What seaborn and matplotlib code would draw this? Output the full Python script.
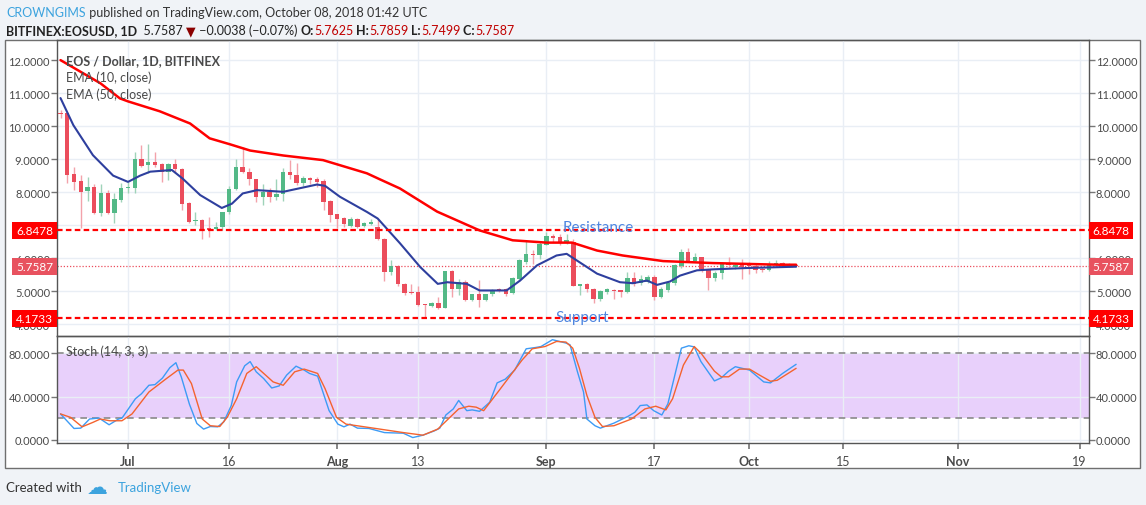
import numpy as np
import pandas as pd
import matplotlib
matplotlib.use("Agg")
import matplotlib.pyplot as plt
import matplotlib.transforms as mtransforms
from matplotlib.patches import Rectangle
import seaborn as sns

# daily candles, day 0 = 21 Jun 2018, last = 8 Oct 2018
opens = [10.40, 10.39, 8.54, 8.34, 8.03, 8.16, 7.37, 7.98, 7.37, 7.76,
         8.12, 8.11, 8.99, 8.82, 8.90, 8.84, 8.60, 8.84, 8.69, 7.67,
         7.12, 7.17, 6.91, 6.88, 6.94, 7.40, 8.09, 8.77, 8.62, 8.39,
         7.86, 8.01, 7.85, 7.93, 8.60, 8.51, 8.29, 8.43, 8.39, 8.34,
         7.73, 7.34, 7.22, 6.98, 7.20, 6.98, 7.03, 6.94, 6.59, 5.58,
         5.76, 5.22, 4.97, 4.97, 4.61, 4.56, 4.63, 4.49, 5.60, 5.07,
         5.29, 4.72, 4.90, 4.72, 4.90, 5.07, 5.07, 4.95, 5.37, 5.88,
         6.13, 6.08, 6.41, 6.67, 6.64, 6.49, 6.49, 5.17, 5.22, 5.07,
         4.75, 4.97, 5.04, 5.02, 4.97, 5.39, 5.25, 5.29, 5.42, 4.82,
         5.02, 5.25, 5.76, 6.20, 5.90, 6.03, 5.66, 5.39, 5.56, 5.86,
         5.73, 5.80, 5.78, 5.76, 5.68, 5.63, 5.80, 5.86, 5.76, 5.7625]
highs = [10.50, 10.42, 8.77, 8.51, 8.46, 8.26, 8.26, 8.06, 7.96, 8.28,
         8.31, 9.22, 9.43, 9.46, 9.22, 8.87, 8.87, 8.99, 8.72, 7.70,
         7.40, 7.20, 7.25, 7.10, 7.40, 8.19, 8.99, 9.38, 8.72, 8.41,
         8.26, 8.11, 8.41, 8.72, 8.97, 8.87, 8.49, 8.46, 8.46, 8.39,
         7.75, 7.35, 7.25, 7.25, 7.22, 7.08, 7.20, 7.20, 6.60, 5.93,
         5.80, 5.25, 5.22, 5.17, 4.62, 4.66, 4.82, 5.60, 5.63, 5.37,
         5.35, 4.92, 5.35, 4.92, 5.07, 5.09, 5.09, 5.42, 5.98, 6.54,
         6.24, 6.49, 6.79, 6.74, 6.74, 6.74, 6.57, 5.22, 5.25, 5.09,
         5.02, 5.09, 5.07, 5.02, 5.58, 5.58, 5.48, 5.48, 5.48, 5.12,
         5.32, 5.83, 6.29, 6.31, 6.16, 6.03, 5.68, 5.60, 5.88, 6.03,
         5.85, 5.96, 5.88, 5.81, 5.73, 5.90, 5.93, 5.88, 5.86, 5.7859]
lows = [10.25, 8.28, 8.06, 6.90, 7.74, 7.35, 7.27, 7.33, 7.05, 7.70,
        7.96, 7.96, 8.75, 8.57, 8.75, 8.31, 8.38, 8.57, 7.45, 7.07,
        7.00, 6.59, 6.64, 6.84, 6.84, 7.35, 8.06, 8.57, 8.21, 7.70,
        7.60, 7.70, 7.75, 7.72, 8.41, 8.21, 8.20, 8.26, 8.16, 7.45,
        7.10, 6.91, 6.94, 6.94, 6.91, 6.94, 7.00, 6.54, 5.32, 5.48,
        5.17, 4.89, 4.92, 4.56, 4.21, 4.51, 4.46, 4.49, 4.82, 4.87,
        4.69, 4.69, 4.51, 4.69, 4.85, 4.97, 4.85, 4.92, 5.32, 5.83,
        5.83, 5.98, 6.39, 6.49, 6.39, 6.44, 5.15, 4.89, 4.97, 4.65,
        4.69, 4.92, 4.75, 4.82, 4.95, 5.17, 5.19, 5.25, 4.72, 4.79,
        4.97, 5.19, 5.70, 5.88, 5.88, 5.58, 5.02, 5.32, 5.37, 5.70,
        5.68, 5.37, 5.53, 5.56, 5.58, 5.60, 5.76, 5.73, 5.73, 5.7499]
closes = [10.37, 8.51, 8.31, 8.01, 8.16, 7.37, 7.98, 7.37, 7.78, 8.14,
          8.14, 8.99, 8.79, 8.92, 8.82, 8.60, 8.84, 8.69, 7.65, 7.10,
          7.17, 6.86, 6.86, 6.94, 7.40, 8.09, 8.77, 8.60, 8.39, 7.86,
          8.01, 7.86, 7.93, 8.60, 8.51, 8.29, 8.43, 8.36, 8.31, 7.70,
          7.32, 7.20, 7.02, 7.20, 6.94, 7.05, 7.08, 6.57, 5.58, 5.76,
          5.22, 4.95, 4.94, 4.59, 4.58, 4.63, 4.48, 5.60, 5.07, 5.29,
          4.72, 4.90, 4.72, 4.90, 5.04, 5.04, 4.92, 5.40, 5.93, 6.11,
          6.08, 6.44, 6.67, 6.61, 6.49, 6.54, 5.17, 5.22, 5.05, 4.75,
          4.99, 5.05, 5.00, 4.97, 5.39, 5.22, 5.37, 5.42, 4.82, 5.05,
          5.25, 5.78, 6.20, 5.90, 6.03, 5.66, 5.39, 5.56, 5.83, 5.78,
          5.78, 5.73, 5.76, 5.63, 5.63, 5.83, 5.86, 5.78, 5.81, 5.7587]

# EMA lines (day offset, value)
ema10_day = [0, 1.9, 4.8, 7.8, 10, 11.8, 13.3, 16.5, 18.1, 20.7, 23.9, 25.4,
             27, 29.1, 33, 38, 39.2, 41.4, 45.4, 47, 50.3, 53.3, 55.9, 57.3,
             60.2, 62.1, 66.1, 68.1, 70.6, 73.5, 75, 76.5, 79.5, 82.9, 84.8,
             86.9, 88.4, 90.3, 91.8, 94.3, 96.7, 101.7, 109]
ema10 = [10.85, 10.03, 9.12, 8.50, 8.31, 8.50, 8.62, 8.67, 8.41, 7.91, 7.52,
         7.65, 7.96, 8.06, 8.01, 8.23, 8.19, 7.86, 7.40, 7.20, 6.45, 5.73,
         5.22, 5.27, 5.22, 5.02, 5.02, 5.32, 5.78, 6.08, 6.13, 5.93, 5.53,
         5.27, 5.24, 5.32, 5.19, 5.29, 5.47, 5.63, 5.66, 5.70, 5.74]
ema50_day = [0, 5.9, 8.8, 10, 14.7, 19.2, 22.1, 25.1, 28.1, 33, 38.9, 45.4,
             47.3, 50.3, 55.8, 62.1, 67, 72, 75.8, 79.5, 83.3, 89.3, 96.7,
             106.6, 109]
ema50 = [12.0, 11.3, 10.84, 10.75, 10.45, 10.08, 9.63, 9.45, 9.26, 9.11,
         8.97, 8.57, 8.39, 8.11, 7.41, 6.84, 6.54, 6.47, 6.47, 6.23, 6.08,
         5.91, 5.85, 5.80, 5.80]

# Stoch (14, 3, 3)
stoch_k_day = [0, 2, 3, 4.3, 5.7, 7.2, 8.6, 9.1, 11.1, 12, 13.1, 14, 15.1,
               16.2, 17.1, 17.9, 19.1, 20.2, 21.2, 22.2, 23.3, 24.2, 25.3,
               26.1, 27.3, 28.1, 29, 30.1, 31.3, 32.4, 33.5, 34.9, 36.1, 36.9,
               38.1, 39.8, 41.1, 42, 42.9, 44, 45.7, 48, 50.8, 52.2, 53.7,
               55.4, 56.2, 57.1, 58.2, 59, 60.2, 61, 62.1, 63.6, 64.7, 65.9,
               67.3, 69, 70.4, 71.2, 72.9, 74.9, 75.5, 76.6, 77.5, 78, 79.2,
               80, 82, 84.1, 85.1, 85.9, 86.9, 87.9, 89.1, 90, 92, 93.1, 93.9,
               94.9, 96.9, 97.9, 99, 100, 102.1, 104.2, 105.2, 107, 109]
stoch_k = [24, 10.6, 10.9, 19.3, 20.2, 14, 19.3, 20, 38, 42.6, 50.4, 51, 57,
           66.6, 71.2, 58, 33, 15.2, 10, 12.4, 12.1, 16.8, 31.7, 53.5, 68.4,
           72.2, 62.8, 56.6, 47.9, 49.8, 59.7, 68, 64.4, 61.3, 58.8, 27, 14.6,
           12.1, 14.6, 10.9, 10.6, 6.8, 6.2, 2.2, 4.4, 8.4, 10.9, 23, 28.6,
           36.4, 27, 27.7, 26.4, 34.8, 52.6, 56, 64.4, 84, 85.2, 86.1, 92.4,
           89.3, 87.7, 62.8, 44.2, 19.3, 13.1, 10.9, 15.5, 21.8, 25.5, 31.7,
           32.3, 27, 23, 33.3, 84.6, 86.8, 85.8, 72.2, 54.4, 57.2, 63.4, 67.5,
           64.4, 53.5, 52.6, 61.3, 69.7]
stoch_d_day = [0, 1.5, 3.2, 4.8, 5.9, 7.3, 9.1, 10.6, 13.1, 15.7, 17.4, 18.2,
               19.4, 21, 22.2, 23.6, 24.7, 26.1, 27.6, 29, 30.4, 31.5, 33,
               34.7, 36.1, 38.1, 39.2, 40.9, 42.3, 45.7, 50.8, 53.7, 55.9, 59,
               60.5, 61.6, 62.7, 65, 68.4, 69.9, 71.8, 73.5, 74.9, 75.9, 76.9,
               78, 79.2, 80.3, 82, 84.6, 86.6, 88.2, 89.7, 90.7, 92.3, 93.9,
               94.9, 96.9, 97.9, 99, 100.6, 102.1, 103.6, 105.2, 106.2, 109]
stoch_d = [24, 20.8, 12.1, 16.2, 19.3, 17.7, 17.7, 24, 44.2, 56.6, 64.4,
           64.4, 52, 19.3, 13.1, 12.4, 20.8, 37.9, 61.3, 67.5, 59.7, 53.5,
           50.4, 62.8, 65.3, 61.3, 47.3, 20.8, 14.6, 11.5, 6.8, 4.4, 10, 28.6,
           31.1, 30.2, 27, 45.7, 73.7, 84, 86.1, 90.8, 90.2, 84.6, 65.9, 41,
           20.8, 12.4, 13.1, 19.3, 28.6, 31.1, 27.7, 38, 69, 86.1, 80, 63.4,
           58.2, 58.2, 65.3, 65.3, 59.7, 54.1, 55, 66]

price_ticks = [4, 5, 6, 7, 8, 9, 10, 11, 12]
stoch_ticks = [0, 40, 80]
date_ticks = ["2018-07-01", "2018-07-16", "2018-08-01", "2018-08-13",
              "2018-09-01", "2018-09-17", "2018-10-01", "2018-10-15",
              "2018-11-01", "2018-11-19"]
date_labels = ["Jul", "16", "Aug", "13", "Sep", "17", "Oct", "15", "Nov", "19"]
resistance = 6.8478
support = 4.1733
last_price = 5.7587

W, H = 1146, 506
UP, DOWN = "#53b987", "#eb4d5c"
GRID = "#e9eef5"
AXC = "#555555"
START = pd.Timestamp("2018-06-21")

sns.set_theme(style="white")
plt.rcParams["font.family"] = ["Lato", "DejaVu Sans"]

df = pd.DataFrame({"open": opens, "high": highs, "low": lows, "close": closes})
df["day"] = np.arange(len(df))
df["up"] = df["close"] >= df["open"]

fig = plt.figure(figsize=(W / 100, H / 100), dpi=100, facecolor="#f0f3f7")
px = mtransforms.IdentityTransform()

# white chart frame, behind the axes
frame = Rectangle((5, H - 469), 1135, 428, transform=px, facecolor="white",
                  edgecolor="#6f6f6f", lw=1)
frame.set_zorder(-5)
fig.patches.append(frame)

def fig_box(top, bottom):
    return [57 / W, (H - bottom) / H, (1089 - 57) / W, (bottom - top) / H]

ax = fig.add_axes(fig_box(41, 337))
ax2 = fig.add_axes(fig_box(337, 444), sharex=ax)
for a in (ax, ax2):
    a.set_facecolor("none")
    for s in a.spines.values():
        s.set_color(AXC)
        s.set_linewidth(1)
    a.grid(True, color=GRID, lw=1)
    a.set_axisbelow(True)
    a.tick_params(axis="y", which="both", left=True, right=True, labelleft=True,
                  labelright=True, length=4, width=1, color="#777777",
                  labelcolor="#4a4a4a", labelsize=8, pad=1)

tick_days = [(pd.Timestamp(d) - START).days for d in date_ticks]

# candles
wick_c = np.where(df["up"], "#9fd3b9", "#f3a2aa")
body_c = np.where(df["up"], UP, DOWN)
ax.vlines(df["day"], df["low"], df["high"], colors=wick_c, lw=1, zorder=2)
body_h = np.maximum((df["close"] - df["open"]).abs(), 0.03)
body_b = np.minimum(df["open"], df["close"])
ax.bar(df["day"], body_h, bottom=body_b, width=0.66, color=body_c, lw=0, zorder=3)

sns.lineplot(x=ema50_day, y=ema50, ax=ax, color="#ff0000", lw=1.8, zorder=4,
             estimator=None, sort=False, solid_joinstyle="round")
sns.lineplot(x=ema10_day, y=ema10, ax=ax, color="#2e3f9e", lw=1.5, zorder=4,
             estimator=None, sort=False, solid_joinstyle="round")

ax.axhline(resistance, color="#ff0000", lw=1.6, ls=(0, (2.5, 1.5)), zorder=5)
ax.axhline(support, color="#ff0000", lw=1.6, ls=(0, (2.5, 1.5)), zorder=5)
ax.axhline(last_price, color="#eb4d5c", lw=0.9, ls=(0, (1, 1.5)), zorder=1)

ax.set_ylim(3.64, 12.61)
ax.set_xlim(-0.52, 152.4)
ax.set_yticks(price_ticks)
# 7.0000 sits fully under the resistance tag in the original
ax.set_yticklabels(["" if v == 7 else f"{v:.4f}" for v in price_ticks])
ax.tick_params(axis="x", bottom=False, labelbottom=False)
ax.set_xlabel("")
ax.set_ylabel("")

ax.text(79.7, resistance + 0.1, "Resistance", color="#4f86e0", fontsize=11,
        ha="center", va="center", zorder=6)
ax.text(77.3, support + 0.05, "Support", color="#4f86e0", fontsize=11,
        ha="center", va="center", zorder=6)

# price label boxes on both scales
ytr = mtransforms.blended_transform_factory(px, ax.transData)
bh = 17 / 32.9
for val, col in [(resistance, "#ff0000"), (support, "#ff0000"), (last_price, "#e8525f")]:
    for x0, x1 in [(12, 57), (1089, 1133)]:
        ax.add_patch(Rectangle((x0, val - bh / 2), x1 - x0, bh, transform=ytr,
                               facecolor=col, edgecolor="none", clip_on=False, zorder=7))
        ax.text((x0 + x1) / 2, val, f"{val:.4f}", transform=ytr, color="white",
                fontsize=8.5, ha="center", va="center", clip_on=False, zorder=8)

ax.text(9 / (1089 - 57), 1 - 20 / 296, "EOS / Dollar, 1D, BITFINEX", transform=ax.transAxes,
        color="#4a4a4a", fontsize=9, ha="left", va="center", zorder=9, fontweight="bold")
ax.text(9 / (1089 - 57), 1 - 37 / 296, "EMA (10, close)", transform=ax.transAxes,
        color="#4a4a4a", fontsize=9, ha="left", va="center", zorder=9)
ax.text(9 / (1089 - 57), 1 - 54 / 296, "EMA (50, close)", transform=ax.transAxes,
        color="#4a4a4a", fontsize=9, ha="left", va="center", zorder=9)

# stochastic panel
ax2.axhspan(20, 80, color="#e8d0fb", lw=0, zorder=0.5)
ax2.axhline(80, color="#8a8a8a", lw=1.2, ls=(0, (4, 3)), zorder=1)
ax2.axhline(20, color="#8a8a8a", lw=1.2, ls=(0, (4, 3)), zorder=1)
sns.lineplot(x=stoch_k_day, y=stoch_k, ax=ax2, color="#3d9bf5", lw=1.0,
             estimator=None, sort=False, zorder=3)
sns.lineplot(x=stoch_d_day, y=stoch_d, ax=ax2, color="#f4632f", lw=1.0,
             estimator=None, sort=False, zorder=3)
ax2.set_ylim(-2.8, 95.8)
ax2.set_yticks(stoch_ticks)
ax2.set_yticklabels([f"{v:.4f}" for v in stoch_ticks])
ax2.set_xticks(tick_days)
ax2.set_xticklabels(date_labels)
ax2.tick_params(axis="x", bottom=True, length=4, color="#777777",
                labelcolor="#4a4a4a", labelsize=9, pad=5)
for lbl in ax2.get_xticklabels():
    if not lbl.get_text().isdigit():
        lbl.set_fontweight("bold")
ax2.set_xlabel("")
ax2.set_ylabel("")
ax2.text(9 / (1089 - 57), 1 - 15 / 107, "Stoch (14, 3, 3)", transform=ax2.transAxes,
         color="#4a4a4a", fontsize=9, ha="left", va="center", zorder=9)

# header and footer
renderer = fig.canvas.get_renderer()

def text_row(x, y, parts, size):
    for s, color, weight in parts:
        t = fig.text(x, H - y, s, transform=px, color=color, fontsize=size,
                     fontweight=weight, ha="left", va="center")
        x = t.get_window_extent(renderer).x1

text_row(6, 13, [("CROWNGIMS", "#3ca3de", "normal"),
                 (" published on TradingView.com, October 08, 2018 01:42 UTC", "#333333", "normal")], 9)
text_row(6, 31, [("BITFINEX:EOSUSD, 1D", "#222222", "bold"),
                 ("  5.7587 ", "#222222", "normal"),
                 ("▼", "#8b0000", "normal"),
                 (" −0.0038 (−0.07%) ", "#222222", "normal"),
                 ("O:", "#222222", "bold"), ("5.7625", "#c00000", "normal"),
                 (" H:", "#222222", "bold"), ("5.7859", "#c00000", "normal"),
                 (" L:", "#222222", "bold"), ("5.7499", "#c00000", "normal"),
                 (" C:", "#222222", "bold"), ("5.7587", "#c00000", "normal")], 9)
text_row(6, 488, [("Created with", "#333333", "normal")], 9.5)
fig.text(87, H - 488, "☁", transform=px, color="#3ca3de", fontsize=15,
         ha="left", va="center", fontfamily="DejaVu Sans")
fig.text(118, H - 488, "TradingView", transform=px, color="#3ca3de", fontsize=9.5,
         ha="left", va="center")

fig.savefig("out.png", dpi=100, facecolor=fig.get_facecolor())
